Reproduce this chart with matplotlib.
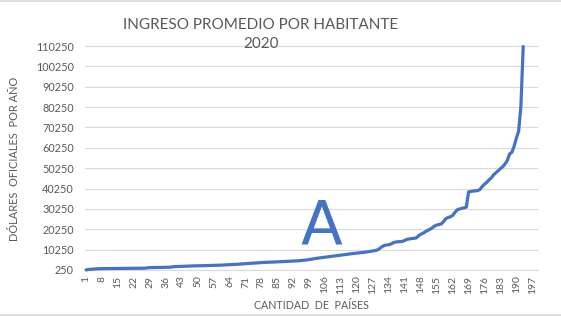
import matplotlib.pyplot as plt
from matplotlib.lines import Line2D

plt.rcParams['font.family'] = ['Lato', 'DejaVu Sans']

titulo = "INGRESO PROMEDIO POR HABITANTE\n2020"
eje_y = "DÓLARES  OFICIALES  POR AÑO"
eje_x = "CANTIDAD  DE  PAÍSES"

# categorias del eje (paises ordenados por ingreso)
paises = list(range(1, 200))
ticks_x = paises[::7]
ticks_y = [250, 10250, 20250, 30250, 40250, 50250, 60250, 70250, 80250, 90250, 100250, 110250]

# ingreso por habitante (USD)
ingreso = [
    270, 500, 600, 700, 800, 850, 900, 920, 940, 960,
    970, 980, 990, 1000, 1010, 1020, 1030, 1040, 1050, 1060,
    1070, 1080, 1090, 1100, 1110, 1120, 1130, 1350, 1400, 1430,
    1460, 1490, 1510, 1530, 1550, 1570, 1590, 1610, 1850, 1900,
    1950, 2000, 2050, 2100, 2150, 2200, 2230, 2260, 2280, 2300,
    2330, 2360, 2390, 2420, 2450, 2480, 2510, 2540, 2570, 2600,
    2660, 2720, 2780, 2840, 2900, 2960, 3020, 3100, 3200, 3280,
    3360, 3440, 3520, 3600, 3680, 3760, 3840, 3920, 3960, 4000,
    4050, 4100, 4150, 4200, 4250, 4300, 4350, 4400, 4450, 4500,
    4550, 4620, 4700, 4750, 4850, 4950, 5050, 5200, 5400, 5600,
    5800, 5950, 6100, 6250, 6400, 6550, 6700, 6850, 7000, 7150,
    7300, 7450, 7600, 7700, 7850, 8000, 8150, 8300, 8400, 8550,
    8700, 8800, 8900, 9050, 9200, 9400, 9600, 9800, 10100, 10900,
    11700, 12300, 12500, 12700, 13000, 13700, 14000, 14100, 14200, 14300,
    14800, 15300, 15500, 15700, 15800, 16000, 17000, 17800, 18300, 19000,
    19700, 20200, 20900, 21800, 22300, 22600, 22850, 24000, 25500, 26000,
    26400, 27000, 28500, 29800, 30200, 30500, 30800, 31100, 38600, 38800,
    39000, 39100, 39250, 39800, 41300, 42400, 43300, 44500, 45500, 47000,
    48000, 49000, 50000, 51000, 52300, 54000, 57200, 58000, 61000, 65000,
    68500, 81000, 110000,
]

azul = '#4472C4'
gris = '#595959'
rejilla = '#D9D9D9'

fig = plt.figure(figsize=(5.61, 3.16), dpi=100)
ax = fig.add_axes([0.1515, 0.1456, 0.8075, 0.7088])

ax.plot(paises[:len(ingreso)], ingreso, color=azul, lw=2.3,
        solid_capstyle='round', clip_on=False, zorder=3)

ax.set_xlim(0.5, 199.5)
ax.set_ylim(250, 110250)
ax.set_yticks(ticks_y)
ax.set_yticklabels([str(v) for v in ticks_y])
ax.set_xticks(ticks_x)
ax.set_xticklabels([str(v) for v in ticks_x], rotation=90)
ax.tick_params(axis='y', length=0, pad=8, labelsize=7.8, labelcolor=gris)
ax.tick_params(axis='x', length=0, pad=4, labelsize=7.5, labelcolor=gris)
ax.grid(axis='y', color=rejilla, lw=0.8)
ax.set_axisbelow(True)
for s in ['top', 'right', 'left']:
    ax.spines[s].set_visible(False)
ax.spines['bottom'].set_color(rejilla)
ax.spines['bottom'].set_linewidth(0.8)

# letra "A" escrita a mano sobre el grafico
ax.text(104.5, 21500, 'A', color=azul, fontsize=44, ha='center', va='center',
        family='DejaVu Sans')

fig.text(0.465, 0.891, titulo, ha='center', va='center', fontsize=11,
         color=gris, linespacing=1.5)
fig.text(0.026, 0.497, eje_y, rotation=90, ha='center', va='center',
         fontsize=7.9, color=gris)
fig.text(0.555, 0.032, eje_x, ha='center', va='center', fontsize=7.7, color=gris)

fig.add_artist(Line2D([0, 1], [0.998, 0.998], color=rejilla, lw=1.2))
fig.add_artist(Line2D([0, 1], [0.004, 0.004], color=rejilla, lw=1.2))

fig.savefig('out.png', dpi=100)
